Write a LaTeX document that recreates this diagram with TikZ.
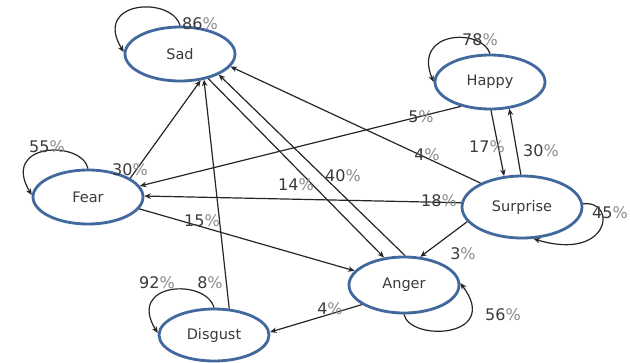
\documentclass[tikz,border=0pt]{standalone}
\usepackage{fontspec}
\setmainfont{DejaVu Sans}
\usetikzlibrary{shapes.geometric,arrows.meta,shadows}
\definecolor{nodeblue}{HTML}{41699E}
\definecolor{txtdark}{HTML}{3A3A3A}
\definecolor{pctgrey}{HTML}{8A8A8A}
\newcommand{\pct}[1]{\textcolor{txtdark}{#1}\textcolor{pctgrey}{\%}}
\tikzset{
  state/.style={ellipse, draw=nodeblue, line width=2.8pt, fill=white, inner sep=0pt,
    minimum width=110pt, minimum height=54pt, text=txtdark,
    font=\fontsize{14.5}{16}\selectfont,
    drop shadow={opacity=0.18, shadow xshift=1pt, shadow yshift=-1.5pt}},
  edge/.style={line width=1.2pt, draw=black!85, -{Stealth[length=6.5pt,width=5.5pt]}},
  plabel/.style={inner sep=0pt, font=\fontsize{16}{18}\selectfont}
}
\begin{document}
\begin{tikzpicture}[x=1pt,y=-1pt]
\useasboundingbox (0,0) rectangle (630,362);
\fill[white] (0,0) rectangle (630,362);
% nodes
\node[state] (sad) at (180,54) {Sad};
\node[state] (happy) at (490,82) {Happy};
\node[state] (fear) at (88,197) {Fear};
\node[state, minimum height=52pt] (disgust) at (214,335) {Disgust};
\node[state, minimum width=120pt, minimum height=62pt] (surprise) at (522,207) {Surprise};
\node[state, minimum height=56pt] (anger) at (404,285) {Anger};
% edges between states
\draw[edge] (fear.24) -- (sad.-52);
\draw[edge] (disgust.60) -- (sad.-47);
\draw[edge] (sad.-41) -- (anger.126);
\draw[edge] (anger.88) -- (sad.-28);
\draw[edge] (surprise.150) -- (sad.-14);
\draw[edge] (happy.220) -- (fear.12);
\draw[edge] (happy.-88) -- (surprise.120);
\draw[edge] (surprise.92) -- (happy.-54);
\draw[edge] (surprise.176) -- (fear.1);
\draw[edge] (fear.-13) -- (anger.164);
\draw[edge] (surprise.-165) -- (anger.60);
\draw[edge] (anger.-155) -- (disgust.3);
% self loops
\draw[edge] (sad.90) .. controls (172,-4) and (92,0) .. (sad.178);
\draw[edge] (happy.90) .. controls (482,28) and (412,30) .. (happy.180);
\draw[edge] (fear.90) .. controls (82,140) and (0,142) .. (fear.178);
\draw[edge] (disgust.90) .. controls (206,278) and (126,282) .. (disgust.178);
\draw[edge] (surprise.3) .. controls (618,200) and (610,262) .. (surprise.-70);
\draw[edge] (anger.-90) .. controls (410,342) and (502,338) .. (anger.2);
% labels
\node[plabel] (l86) at (200,24) {\pct{86}};
\node[plabel] (l78) at (480,40) {\pct{78}};
\node[plabel] (l55) at (47,147) {\pct{55}};
\node[plabel] (l30a) at (130,170) {\pct{30}};
\node[plabel] (l5) at (421,117) {\pct{5}};
\node[plabel] (l4a) at (427,155) {\pct{4}};
\node[plabel] (l17) at (487,147) {\pct{17}};
\node[plabel] (l30b) at (541,151) {\pct{30}};
\node[plabel] (l40) at (343,176) {\pct{40}};
\node[plabel] (l14) at (296,185) {\pct{14}};
\node[plabel] (l18) at (439,201) {\pct{18}};
\node[plabel] (l15) at (202,221) {\pct{15}};
\node[plabel] (l3) at (463,254) {\pct{3}};
\node[plabel, anchor=east] (l45) at (628,213) {\pct{45}};
\node[plabel] (l56) at (503,315) {\pct{56}};
\node[plabel] (l4b) at (330,309) {\pct{4}};
\node[plabel] (l92) at (157,283) {\pct{92}};
\node[plabel] (l8) at (210,283) {\pct{8}};
\end{tikzpicture}
\end{document}
